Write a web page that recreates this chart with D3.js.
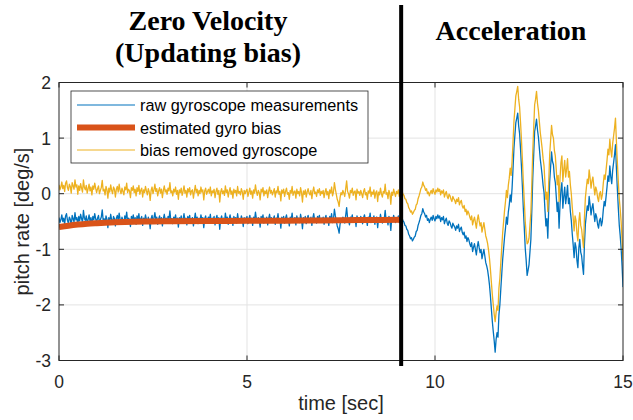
<!DOCTYPE html>
<html><head><meta charset="utf-8">
<script src="https://cdn.jsdelivr.net/npm/d3@7"></script>
<style>
html,body{margin:0;padding:0;background:#fff;}
svg{display:block;font-family:"Liberation Sans",Arial,Helvetica,sans-serif;}
</style></head>
<body><svg id="c" width="633" height="420"></svg>
<script>
// sampling interval of the gyro traces (seconds)
const dt = 0.025;
// raw gyroscope measurements, deg/s, one value every dt from t = 0 to 15 s
const rawGyro = [
-0.43,-0.52,-0.47,-0.38,-0.50,-0.44,-0.55,-0.40,-0.36,-0.48,-0.53,-0.42,-0.46,-0.58,-0.39,-0.45,-0.51,-0.34,-0.47,-0.43,
-0.56,-0.41,-0.49,-0.37,-0.45,-0.52,-0.30,-0.44,-0.48,-0.40,-0.54,-0.46,-0.38,-0.50,-0.43,-0.57,-0.41,-0.47,-0.36,-0.45,
-0.51,-0.44,-0.39,-0.53,-0.47,-0.42,-0.29,-0.48,-0.45,-0.55,-0.40,-0.46,-0.61,-0.43,-0.50,-0.37,-0.47,-0.53,-0.41,-0.45,
-0.58,-0.44,-0.39,-0.49,-0.35,-0.46,-0.52,-0.42,-0.48,-0.54,-0.40,-0.45,-0.33,-0.50,-0.44,-0.47,-0.59,-0.41,-0.46,-0.38,
-0.49,-0.43,-0.55,-0.40,-0.47,-0.36,-0.52,-0.45,-0.41,-0.57,-0.44,-0.49,-0.38,-0.46,-0.53,-0.42,-0.48,-0.63,-0.45,-0.39,
-0.51,-0.44,-0.34,-0.47,-0.42,-0.55,-0.46,-0.40,-0.50,-0.43,-0.58,-0.45,-0.37,-0.48,-0.44,-0.52,-0.41,-0.46,-0.31,-0.49,
-0.45,-0.54,-0.42,-0.47,-0.38,-0.51,-0.44,-0.60,-0.43,-0.48,-0.40,-0.53,-0.46,-0.36,-0.49,-0.44,-0.56,-0.41,-0.47,-0.39,
-0.52,-0.45,-0.43,-0.58,-0.46,-0.35,-0.48,-0.42,-0.54,-0.44,-0.50,-0.38,-0.47,-0.43,-0.61,-0.45,-0.40,-0.51,-0.46,-0.42,
-0.48,-0.37,-0.53,-0.44,-0.47,-0.41,-0.56,-0.45,-0.39,-0.50,-0.43,-0.64,-0.46,-0.40,-0.49,-0.44,-0.52,-0.35,-0.47,-0.42,
-0.55,-0.45,-0.38,-0.50,-0.44,-0.57,-0.41,-0.47,-0.43,-0.53,-0.36,-0.48,-0.45,-0.51,-0.40,-0.46,-0.59,-0.43,-0.49,-0.44,
-0.41,-0.54,-0.46,-0.39,-0.50,-0.44,-0.57,-0.42,-0.48,-0.33,-0.45,-0.52,-0.43,-0.47,-0.60,-0.41,-0.46,-0.38,-0.53,-0.44,
-0.49,-0.42,-0.56,-0.45,-0.37,-0.48,-0.43,-0.51,-0.46,-0.40,-0.55,-0.44,-0.47,-0.36,-0.50,-0.45,-0.62,-0.42,-0.48,-0.41,
-0.53,-0.44,-0.38,-0.49,-0.46,-0.58,-0.42,-0.47,-0.35,-0.51,-0.45,-0.43,-0.56,-0.40,-0.48,-0.44,-0.52,-0.37,-0.46,-0.63,
-0.43,-0.49,-0.41,-0.54,-0.45,-0.39,-0.47,-0.50,-0.42,-0.57,-0.44,-0.36,-0.48,-0.45,-0.53,-0.41,-0.46,-0.39,-0.51,-0.44,
-0.48,-0.42,-0.55,-0.45,-0.39,-0.50,-0.44,-0.57,-0.41,-0.47,-0.36,-0.52,-0.45,-0.28,-0.40,-0.49,-0.58,-0.63,-0.71,-0.55,
-0.46,-0.50,-0.42,-0.47,-0.53,-0.39,-0.25,-0.44,-0.48,-0.56,-0.42,-0.46,-0.38,-0.51,-0.45,-0.43,-0.59,-0.40,-0.47,-0.44,
-0.50,-0.41,-0.47,-0.54,-0.43,-0.38,-0.49,-0.45,-0.57,-0.42,-0.46,-0.35,-0.52,-0.44,-0.48,-0.40,-0.55,-0.45,-0.42,-0.61,
-0.44,-0.49,-0.37,-0.47,-0.53,-0.43,-0.46,-0.30,-0.48,-0.45,-0.56,-0.41,-0.47,-0.66,-0.44,-0.50,-0.39,-0.46,-0.52,-0.43,
-0.47,-0.40,-0.52,-0.44,-0.46,
-0.44,-0.49,-0.51,-0.57,-0.58,-0.64,-0.66,-0.73,-0.76,-0.81,-0.79,-0.85,-0.82,-0.78,-0.76,-0.68,-0.66,-0.57,-0.52,-0.46,
-0.39,-0.36,-0.27,-0.33,-0.36,-0.42,-0.39,-0.48,-0.45,-0.52,-0.46,-0.42,-0.48,-0.39,-0.45,-0.49,-0.41,-0.45,-0.38,-0.44,
-0.40,-0.50,-0.43,-0.47,-0.41,-0.54,-0.48,-0.44,-0.53,-0.57,-0.49,-0.52,-0.58,-0.62,-0.53,-0.57,-0.60,-0.66,-0.58,-0.62,
-0.55,-0.68,-0.63,-0.60,-0.70,-0.74,-0.69,-0.80,-0.76,-0.86,-0.79,-0.83,-0.90,-0.95,-0.88,-1.04,-0.96,-0.90,-1.00,-1.10,
-0.95,-0.86,-0.97,-1.06,-1.00,-1.17,-1.08,-1.00,-1.12,-1.24,-1.30,-1.38,-1.50,-1.65,-1.85,-2.08,-2.30,-2.48,-2.65,-2.85,
-2.62,-2.50,-2.58,-2.18,-2.00,-1.72,-1.45,-1.18,-0.98,-0.78,-0.62,-0.42,-0.55,-0.33,-0.20,-0.02,-0.15,0.10,0.45,0.82,
1.05,1.28,1.36,1.45,1.22,1.08,0.80,0.48,0.12,-0.28,-0.62,-0.98,-1.20,-1.47,-1.38,-1.28,-1.05,-0.82,-0.30,0.28,
0.70,1.12,1.22,1.34,1.15,1.02,0.82,0.62,0.48,0.33,0.15,0.02,-0.30,-0.58,-0.45,-0.80,-0.25,0.22,0.48,0.75,
0.58,0.52,0.30,0.20,-0.05,-0.32,-0.15,-0.62,-0.20,0.08,0.20,-0.26,-0.05,0.12,-0.18,-0.04,0.15,-0.18,-0.08,-0.32,
-0.48,-0.72,-0.92,-1.15,-0.88,-0.96,-1.20,-1.33,-0.98,-0.82,-1.05,-1.12,-1.30,-1.45,-0.90,-0.55,-0.38,-0.22,-0.30,-0.05,
-0.20,-0.38,-0.25,-0.18,-0.35,-0.50,-0.36,-0.42,-0.55,-0.62,-0.48,-0.44,-0.58,-0.50,-0.30,-0.14,-0.22,-0.05,0.12,0.32,
0.22,0.50,0.30,0.18,0.42,0.56,0.70,0.88,0.45,0.08,-0.25,-0.56,-0.75,-0.98,-1.30,-1.68
];
// bias removed gyroscope, deg/s, same sampling
const biasRemoved = [
0.16,0.07,0.12,0.21,0.09,0.15,0.04,0.19,0.23,0.11,0.06,0.17,0.13,0.01,0.20,0.14,0.08,0.25,0.12,0.16,
-0.01,0.14,0.06,0.18,0.10,0.03,0.25,0.11,0.07,0.15,0.01,0.09,0.17,0.05,0.12,-0.02,0.14,0.08,0.19,0.10,
0.02,0.09,0.14,0.00,0.06,0.11,0.24,0.05,0.08,-0.02,0.13,0.07,-0.08,0.10,0.03,0.16,0.06,0.00,0.12,0.08,
-0.06,0.08,0.13,0.03,0.17,0.06,0.00,0.10,0.04,-0.02,0.12,0.07,0.19,0.02,0.08,0.05,-0.07,0.11,0.06,0.14,
0.02,0.08,-0.04,0.11,0.04,0.15,-0.01,0.06,0.10,-0.06,0.07,0.02,0.13,0.05,-0.02,0.09,0.03,-0.12,0.06,0.12,
0.00,0.07,0.17,0.04,0.09,-0.04,0.05,0.11,0.01,0.08,-0.07,0.06,0.14,0.03,0.07,-0.01,0.10,0.05,0.20,0.02,
0.05,-0.04,0.08,0.03,0.12,-0.01,0.06,-0.10,0.07,0.02,0.10,-0.03,0.04,0.14,0.01,0.06,-0.06,0.09,0.03,0.11,
-0.02,0.05,0.07,-0.08,0.04,0.15,0.02,0.08,-0.04,0.06,0.00,0.12,0.03,0.07,-0.11,0.05,0.10,-0.01,0.04,0.08,
0.01,0.12,-0.04,0.05,0.02,0.08,-0.07,0.04,0.10,-0.01,0.06,-0.15,0.03,0.09,0.00,0.05,-0.03,0.14,0.02,0.07,
-0.06,0.04,0.11,-0.01,0.05,-0.08,0.08,0.02,0.06,-0.04,0.13,0.01,0.04,-0.02,0.09,0.03,-0.10,0.06,0.00,0.05,
0.08,-0.05,0.03,0.10,-0.01,0.05,-0.08,0.07,0.01,0.16,0.04,-0.03,0.06,0.02,-0.11,0.08,0.03,0.11,-0.04,0.05,
0.00,0.07,-0.07,0.04,0.12,0.01,0.06,-0.02,0.03,0.09,-0.06,0.05,0.02,0.13,-0.01,0.04,-0.13,0.07,0.01,0.08,
-0.05,0.04,0.10,-0.01,0.02,-0.10,0.06,0.01,0.13,-0.03,0.03,0.05,-0.08,0.08,0.00,0.04,-0.04,0.11,0.02,-0.15,
0.05,-0.01,0.07,-0.06,0.03,0.09,0.01,-0.02,0.06,-0.09,0.04,0.12,0.00,0.03,-0.05,0.07,0.02,0.09,-0.03,0.04,
0.00,0.06,-0.07,0.03,0.09,-0.02,0.04,-0.09,0.07,0.01,0.12,-0.04,0.03,0.20,0.08,-0.01,-0.10,-0.15,-0.23,-0.07,
0.02,-0.02,0.06,0.01,-0.05,0.09,0.23,0.04,0.00,-0.08,0.06,0.02,0.10,-0.03,0.03,0.05,-0.11,0.08,0.01,0.04,
-0.03,0.06,0.00,-0.07,0.04,0.09,-0.02,0.02,-0.10,0.05,0.01,0.12,-0.05,0.03,-0.01,0.07,-0.08,0.02,0.05,-0.14,
0.03,-0.02,0.10,0.00,-0.06,0.04,0.01,0.17,-0.01,0.02,-0.09,0.06,0.00,-0.19,0.03,-0.03,0.08,0.01,-0.05,0.04,
0.00,0.07,-0.05,0.03,0.01,
0.04,-0.01,-0.03,-0.09,-0.10,-0.16,-0.18,-0.25,-0.28,-0.33,-0.31,-0.37,-0.34,-0.30,-0.28,-0.20,-0.18,-0.09,-0.04,0.02,
0.09,0.12,0.21,0.15,0.12,0.06,0.09,0.00,0.03,-0.04,0.02,0.06,0.00,0.09,0.03,-0.01,0.07,0.03,0.10,0.04,
0.08,-0.02,0.05,0.01,0.07,-0.06,0.00,0.04,-0.05,-0.09,-0.01,-0.04,-0.10,-0.14,-0.05,-0.09,-0.12,-0.18,-0.10,-0.14,
-0.07,-0.20,-0.15,-0.12,-0.22,-0.26,-0.21,-0.32,-0.28,-0.38,-0.31,-0.35,-0.42,-0.47,-0.40,-0.56,-0.48,-0.42,-0.52,-0.62,
-0.47,-0.38,-0.49,-0.58,-0.52,-0.69,-0.60,-0.52,-0.64,-0.76,-0.82,-0.90,-1.02,-1.17,-1.37,-1.60,-1.82,-2.00,-2.17,-2.30,
-2.14,-2.02,-2.10,-1.70,-1.52,-1.24,-0.97,-0.70,-0.50,-0.30,-0.14,0.06,-0.07,0.15,0.28,0.46,0.33,0.58,0.93,1.30,
1.53,1.76,1.84,1.93,1.70,1.56,1.28,0.96,0.60,0.20,-0.14,-0.50,-0.72,-0.90,-0.88,-0.80,-0.57,-0.34,0.18,0.76,
1.18,1.60,1.70,1.84,1.63,1.50,1.30,1.10,0.96,0.81,0.63,0.50,0.18,-0.10,0.03,-0.32,0.23,0.70,0.96,1.23,
1.06,1.00,0.78,0.68,0.43,0.16,0.33,-0.14,0.28,0.56,0.68,0.22,0.43,0.60,0.30,0.44,0.63,0.30,0.40,0.16,
0.00,-0.24,-0.44,-0.67,-0.40,-0.48,-0.72,-0.85,-0.50,-0.34,-0.57,-0.64,-0.82,-0.97,-0.42,-0.07,0.10,0.26,0.18,0.43,
0.28,0.10,0.23,0.30,0.13,-0.02,0.12,0.06,-0.07,-0.14,0.00,0.04,-0.10,-0.02,0.18,0.34,0.26,0.43,0.60,0.80,
0.70,0.98,0.78,0.66,0.90,1.04,1.18,1.36,0.93,0.56,0.23,-0.08,-0.27,-0.50,-0.82,-1.20
];
// estimated gyro bias (deg/s) during the zero-velocity phase
const biasTime  = [0, 0.25, 0.5, 0.75, 1, 1.5, 2, 2.5, 3, 4, 5, 6, 7, 8, 9.1];
const biasValue = [-0.60,-0.575,-0.555,-0.54,-0.53,-0.515,-0.505,-0.50,-0.495,-0.49,-0.488,-0.485,-0.48,-0.475,-0.47];
// phase boundary (s)
const phaseSwitch = [9.1];
const xTicks = [0, 5, 10, 15];
const yTicks = [-3, -2, -1, 0, 1, 2];
const seriesNames = ["raw gyroscope measurements", "estimated gyro bias", "bias removed gyroscope"];
const phaseTitles = [["Zero Velocity", "(Updating bias)"], ["Acceleration"]];

const C = {blue:"#0072BD", orange:"#D95319", yellow:"#EDB120", axis:"#262626", grid:"#e3e3e3"};
const L = 59, R = 623, T = 82.5, B = 360.5;
const svg = d3.select("#c");
const x = d3.scaleLinear().domain([0, 15]).range([L, R]);
const y = d3.scaleLinear().domain([-3, 2]).range([B, T]);

// grid
const g = svg.append("g");
g.selectAll(".gx").data(xTicks.slice(1, -1)).enter().append("line")
  .attr("x1", d => x(d)).attr("x2", d => x(d)).attr("y1", T).attr("y2", B)
  .attr("stroke", C.grid).attr("stroke-width", 1);
g.selectAll(".gy").data(yTicks.slice(1, -1)).enter().append("line")
  .attr("x1", L).attr("x2", R).attr("y1", d => y(d)).attr("y2", d => y(d))
  .attr("stroke", C.grid).attr("stroke-width", 1);

svg.append("clipPath").attr("id", "clip").append("rect")
  .attr("x", L).attr("y", T).attr("width", R - L).attr("height", B - T);
const plot = svg.append("g").attr("clip-path", "url(#clip)");

const line = d3.line().x((d, i) => x(i * dt)).y(d => y(d));
plot.append("path").datum(rawGyro).attr("d", line)
  .attr("fill", "none").attr("stroke", C.blue).attr("stroke-width", 1.3).attr("stroke-linejoin", "round");
const biasLine = d3.line().curve(d3.curveMonotoneX).x(d => x(d[0])).y(d => y(d[1]));
plot.append("path").datum(biasTime.map((t, i) => [t, biasValue[i]])).attr("d", biasLine)
  .attr("fill", "none").attr("stroke", C.orange).attr("stroke-width", 6);
plot.append("path").datum(biasRemoved).attr("d", line)
  .attr("fill", "none").attr("stroke", C.yellow).attr("stroke-width", 1.3).attr("stroke-linejoin", "round");

// axes box with inward ticks on all sides
const ax = svg.append("g").attr("stroke", C.axis).attr("stroke-width", 1).attr("fill", "none");
ax.append("rect").attr("x", L).attr("y", T).attr("width", R - L).attr("height", B - T);
const tl = 5;
xTicks.forEach(v => {
  ax.append("line").attr("x1", x(v)).attr("x2", x(v)).attr("y1", B).attr("y2", B - tl);
  ax.append("line").attr("x1", x(v)).attr("x2", x(v)).attr("y1", T).attr("y2", T + tl);
});
yTicks.forEach(v => {
  ax.append("line").attr("x1", L).attr("x2", L + tl).attr("y1", y(v)).attr("y2", y(v));
  ax.append("line").attr("x1", R).attr("x2", R - tl).attr("y1", y(v)).attr("y2", y(v));
});

const txt = svg.append("g").attr("fill", C.axis).attr("font-size", 17.5);
txt.selectAll(".xl").data(xTicks).enter().append("text")
  .attr("x", d => x(d)).attr("y", B + 27).attr("text-anchor", "middle").text(d => d);
txt.selectAll(".yl").data(yTicks).enter().append("text")
  .attr("x", L - 8).attr("y", d => y(d) + 6.5).attr("text-anchor", "end").text(d => d);
svg.append("text").attr("x", (L + R) / 2).attr("y", 410).attr("text-anchor", "middle")
  .attr("font-size", 20).attr("fill", C.axis).text("time [sec]");
svg.append("text").attr("transform", `translate(29,${(T + B) / 2}) rotate(-90)`)
  .attr("text-anchor", "middle").attr("font-size", 20).attr("fill", C.axis).text("pitch rate [deg/s]");

// legend
const lg = svg.append("g");
lg.append("rect").attr("x", 71).attr("y", 91).attr("width", 297).attr("height", 72)
  .attr("fill", "#fff").attr("stroke", C.axis).attr("stroke-width", 0.8);
const lcol = [C.blue, C.orange, C.yellow], lw = [1.1, 6, 1];
seriesNames.forEach((n, i) => {
  const yy = 105 + i * 22.5;
  lg.append("line").attr("x1", 77).attr("x2", 135).attr("y1", yy).attr("y2", yy)
    .attr("stroke", lcol[i]).attr("stroke-width", lw[i]);
  lg.append("text").attr("x", 140).attr("y", yy + 6).attr("font-size", 16.3).attr("fill", "#000").text(n);
});

// phase divider and titles
svg.append("line").attr("x1", x(phaseSwitch[0])).attr("x2", x(phaseSwitch[0]))
  .attr("y1", 5).attr("y2", 366).attr("stroke", "#000").attr("stroke-width", 4);
const tf = svg.append("g").attr("font-family", "'Liberation Serif','Times New Roman',serif")
  .attr("font-weight", "bold").attr("font-size", 28).attr("text-anchor", "middle").attr("fill", "#000");
tf.append("text").attr("x", 208).attr("y", 30).text(phaseTitles[0][0]);
tf.append("text").attr("x", 208).attr("y", 62).text(phaseTitles[0][1]);
tf.append("text").attr("x", 511).attr("y", 40).text(phaseTitles[1][0]);
</script></body></html>
